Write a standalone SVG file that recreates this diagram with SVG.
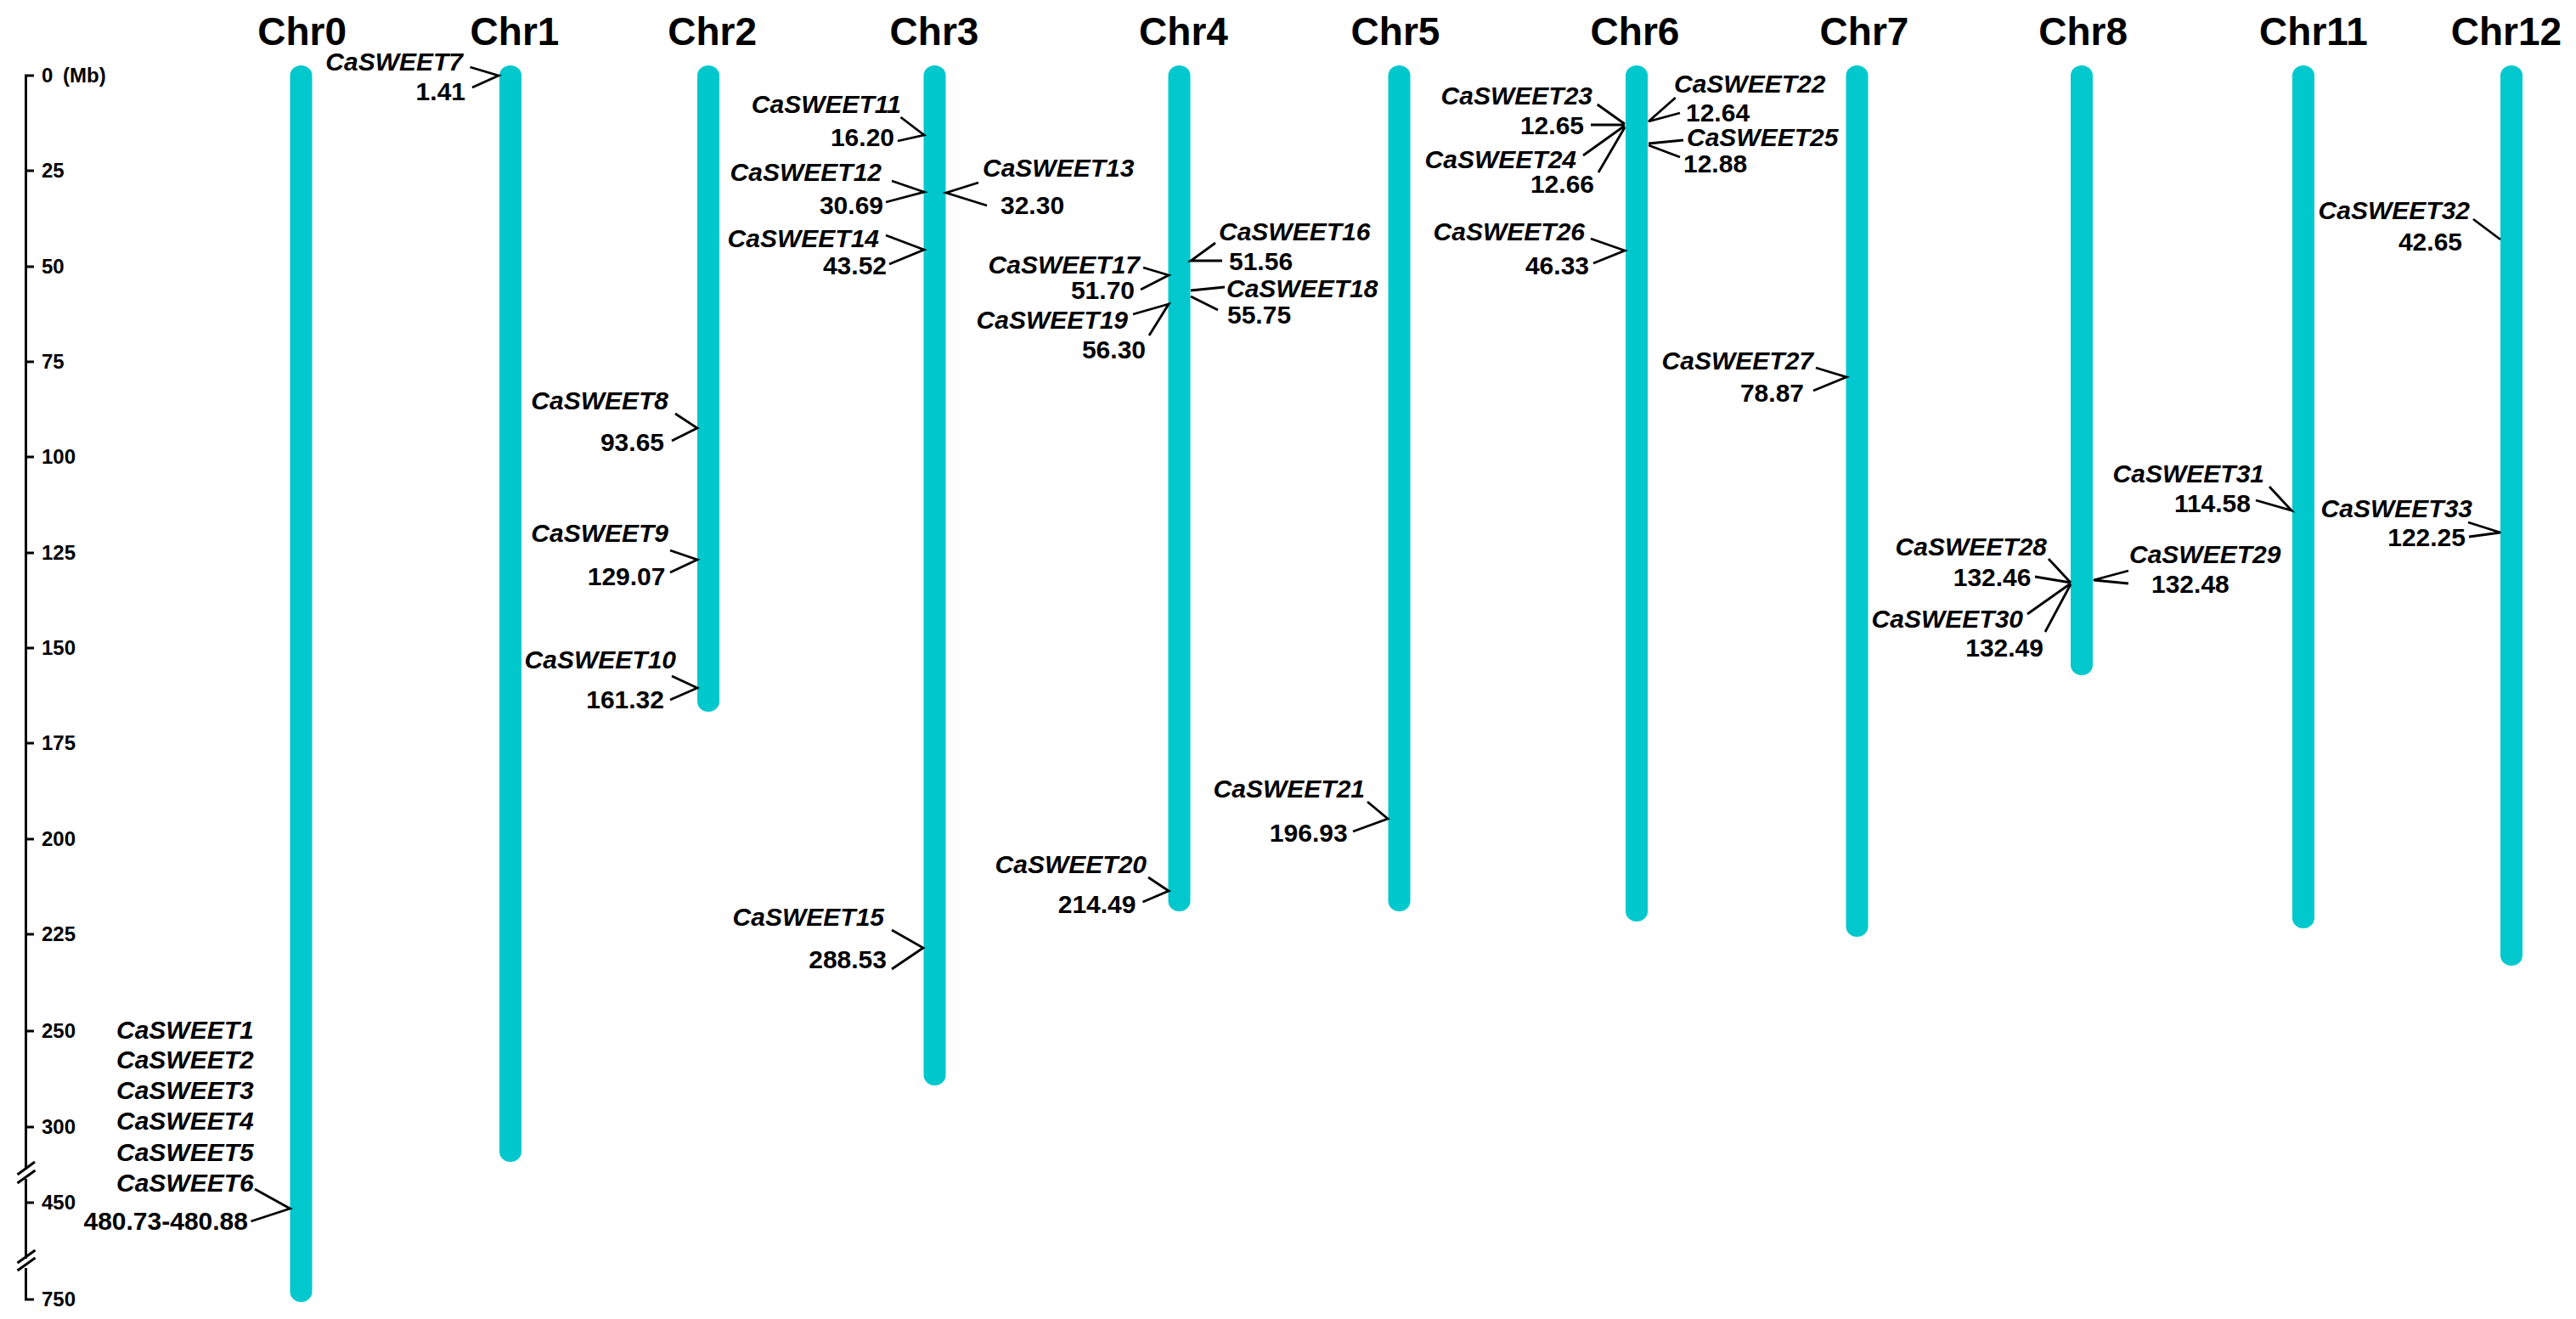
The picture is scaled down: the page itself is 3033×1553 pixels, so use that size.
<svg xmlns="http://www.w3.org/2000/svg" width="3033" height="1553" viewBox="0 0 3033 1553">
<style>
.bar{fill:#00C8CD}
.chr{font-family:"Liberation Sans",Arial,sans-serif;font-weight:bold;font-size:46px;text-anchor:middle;fill:#000}
.g{font-family:"Liberation Sans",Arial,sans-serif;font-weight:bold;font-style:italic;font-size:30px;fill:#000}
.n{font-family:"Liberation Sans",Arial,sans-serif;font-weight:bold;font-size:30px;fill:#000}
.e{text-anchor:end}
.tk{font-family:"Liberation Sans",Arial,sans-serif;font-weight:bold;font-size:24px;fill:#000}
.ln{stroke:#000;stroke-width:2.8;fill:none}
.ax{stroke:#000;stroke-width:3;fill:none}
</style>
<rect width="3033" height="1553" fill="#fff"/>
<g id="axis">
<path class="ax" d="M40,89 H30.5 V1377 M30.5,1388 V1482 M30.5,1493 V1530 H40"/>
<path class="ax" d="M30.5,201 H40 M30.5,314 H40 M30.5,426 H40 M30.5,538 H40 M30.5,651 H40 M30.5,763 H40 M30.5,875 H40 M30.5,988 H40 M30.5,1100 H40 M30.5,1214 H40 M30.5,1327 H40 M30.5,1416 H40"/>
<path class="ax" d="M20.5,1383 L41,1368 M20.5,1393 L41.5,1378 M20.5,1487 L41.5,1472 M20.5,1496 L41.5,1481"/>
<text class="tk" x="49" y="97">0</text><text class="tk" x="74" y="97">(Mb)</text>
<text class="tk" x="49" y="209">25</text>
<text class="tk" x="49" y="322">50</text>
<text class="tk" x="49" y="434">75</text>
<text class="tk" x="49" y="546">100</text>
<text class="tk" x="49" y="659">125</text>
<text class="tk" x="49" y="771">150</text>
<text class="tk" x="49" y="883">175</text>
<text class="tk" x="49" y="996">200</text>
<text class="tk" x="49" y="1108">225</text>
<text class="tk" x="49" y="1222">250</text>
<text class="tk" x="49" y="1335">300</text>
<text class="tk" x="49" y="1424">450</text>
<text class="tk" x="49" y="1538">750</text>
</g>
<g id="Chr0"><text class="chr" x="355.6" y="53">Chr0</text><rect class="bar" x="341.5" y="77" width="26" height="1456" rx="13" ry="12"/></g>
<g id="Chr1"><text class="chr" x="606" y="53">Chr1</text><rect class="bar" x="588" y="77" width="26" height="1291" rx="13" ry="12"/></g>
<g id="Chr2"><text class="chr" x="838.6" y="53">Chr2</text><rect class="bar" x="821" y="77" width="26" height="761" rx="13" ry="12"/></g>
<g id="Chr3"><text class="chr" x="1100" y="53">Chr3</text><rect class="bar" x="1087.5" y="77" width="26" height="1201" rx="13" ry="12"/></g>
<g id="Chr4"><text class="chr" x="1393.5" y="53">Chr4</text><rect class="bar" x="1375.5" y="77" width="26" height="996" rx="13" ry="12"/></g>
<g id="Chr5"><text class="chr" x="1643" y="53">Chr5</text><rect class="bar" x="1634.5" y="77" width="26" height="996" rx="13" ry="12"/></g>
<g id="Chr6"><text class="chr" x="1925" y="53">Chr6</text><rect class="bar" x="1914" y="77" width="26" height="1008" rx="13" ry="12"/></g>
<g id="Chr7"><text class="chr" x="2195" y="53">Chr7</text><rect class="bar" x="2173.5" y="77" width="26" height="1026" rx="13" ry="12"/></g>
<g id="Chr8"><text class="chr" x="2452.7" y="53">Chr8</text><rect class="bar" x="2438" y="77" width="26" height="718" rx="13" ry="12"/></g>
<g id="Chr11"><text class="chr" x="2724" y="53">Chr11</text><rect class="bar" x="2699" y="77" width="26" height="1016" rx="13" ry="12"/></g>
<g id="Chr12"><text class="chr" x="2951" y="53">Chr12</text><rect class="bar" x="2944" y="77" width="26" height="1060" rx="13" ry="12"/></g>
<g id="labels">
<text class="g" x="137" y="1223">CaSWEET1</text>
<text class="g" x="137" y="1258">CaSWEET2</text>
<text class="g" x="137" y="1294">CaSWEET3</text>
<text class="g" x="137" y="1330">CaSWEET4</text>
<text class="g" x="137" y="1367">CaSWEET5</text>
<text class="g" x="137" y="1403">CaSWEET6</text>
<text class="n e" x="292" y="1448">480.73-480.88</text>
<text class="g e" x="545" y="83">CaSWEET7</text>
<text class="n e" x="548" y="118">1.41</text>
<text class="g e" x="787" y="482">CaSWEET8</text>
<text class="n e" x="782" y="531">93.65</text>
<text class="g e" x="787" y="638">CaSWEET9</text>
<text class="n e" x="783.5" y="689">129.07</text>
<text class="g e" x="796" y="787">CaSWEET10</text>
<text class="n e" x="782" y="834">161.32</text>
<text class="g e" x="1061" y="133">CaSWEET11</text>
<text class="n e" x="1053" y="172">16.20</text>
<text class="g e" x="1038" y="213">CaSWEET12</text>
<text class="n e" x="1040" y="252">30.69</text>
<text class="g e" x="1035" y="291">CaSWEET14</text>
<text class="n e" x="1044" y="323">43.52</text>
<text class="g" x="1157" y="208">CaSWEET13</text>
<text class="n" x="1178" y="252">32.30</text>
<text class="g e" x="1041" y="1090">CaSWEET15</text>
<text class="n e" x="1044" y="1140">288.53</text>
<text class="g e" x="1342" y="322">CaSWEET17</text>
<text class="n e" x="1336" y="352">51.70</text>
<text class="g e" x="1328" y="387">CaSWEET19</text>
<text class="n e" x="1349" y="422">56.30</text>
<text class="g e" x="1350" y="1028">CaSWEET20</text>
<text class="n e" x="1337.5" y="1075">214.49</text>
<text class="g" x="1435" y="283">CaSWEET16</text>
<text class="n" x="1447" y="318">51.56</text>
<text class="g" x="1444" y="350">CaSWEET18</text>
<text class="n" x="1445" y="381">55.75</text>
<text class="g e" x="1607" y="939">CaSWEET21</text>
<text class="n e" x="1586.6" y="991">196.93</text>
<text class="g e" x="1875" y="123">CaSWEET23</text>
<text class="n e" x="1865" y="158">12.65</text>
<text class="g e" x="1856" y="198">CaSWEET24</text>
<text class="n e" x="1877" y="227">12.66</text>
<text class="g e" x="1866" y="283">CaSWEET26</text>
<text class="n e" x="1871" y="323">46.33</text>
<text class="g" x="1971" y="109">CaSWEET22</text>
<text class="n" x="1985" y="143">12.64</text>
<text class="g" x="1986" y="172">CaSWEET25</text>
<text class="n" x="1982" y="203">12.88</text>
<text class="g e" x="2135" y="435">CaSWEET27</text>
<text class="n e" x="2124" y="473">78.87</text>
<text class="g e" x="2410" y="654">CaSWEET28</text>
<text class="n e" x="2391.5" y="690">132.46</text>
<text class="g e" x="2382" y="739">CaSWEET30</text>
<text class="n e" x="2406" y="773">132.49</text>
<text class="g" x="2507" y="663">CaSWEET29</text>
<text class="n" x="2533" y="698">132.48</text>
<text class="g e" x="2666" y="568">CaSWEET31</text>
<text class="n e" x="2650" y="603">114.58</text>
<text class="g e" x="2908" y="258">CaSWEET32</text>
<text class="n e" x="2899" y="295">42.65</text>
<text class="g e" x="2911" y="609">CaSWEET33</text>
<text class="n e" x="2903" y="643">122.25</text>
</g>
<g id="connectors" class="ln">
<path d="M300,1400 L341.5,1423 L295.5,1438"/>
<path d="M553.5,79 L587,89 L556,103"/>
<path d="M795,487 L821,504 L791,519"/>
<path d="M789,648 L821,659 L789,674"/>
<path d="M791,796 L821,810 L789,824"/>
<path d="M1060.5,138 L1088,159 L1057,166"/>
<path d="M1050,213 L1088,226 L1043,238"/>
<path d="M1043,277 L1088,294 L1047,311"/>
<path d="M1152,215 L1114,227 L1162,242"/>
<path d="M1050,1095 L1087,1116 L1050,1141"/>
<path d="M1346,315 L1376,324 L1343,341"/>
<path d="M1334,370 L1376,358 L1353,395"/>
<path d="M1352,1033 L1376,1049 L1345.5,1062"/>
<path d="M1431,286 L1402,307 L1439,307"/>
<path d="M1442,338 L1402,342 M1402,349 L1434,365"/>
<path d="M1610,944 L1634,964 L1593,979"/>
<path d="M1880.7,123 L1913,146 M1873,147 L1913,147 M1864,183 L1913,148 M1882,203 L1913,150"/>
<path d="M1873,281 L1913,295 L1876,310"/>
<path d="M1972.7,115 L1941,143 L1978,133"/>
<path d="M1982,165 L1941,169 M1941,171 L1978,185"/>
<path d="M2138,433 L2174,444 L2135,460"/>
<path d="M2412,658 L2438,686 M2396,679 L2438,686 M2387,723 L2438,687 M2408,744 L2438,688"/>
<path d="M2506,672 L2465,683 L2506,687"/>
<path d="M2672,573 L2698,601 L2656,589"/>
<path d="M2912,258 L2944,282"/>
<path d="M2906,615 L2944,627 L2907,632"/>
</g>
</svg>
